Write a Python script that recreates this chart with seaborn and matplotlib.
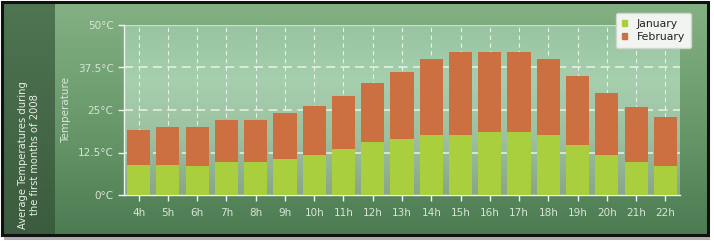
import numpy as np
import pandas as pd
import matplotlib
matplotlib.use("Agg")
import matplotlib.pyplot as plt
import matplotlib.patches as mpatches
from matplotlib.colors import LinearSegmentedColormap
import seaborn as sns

hours = ["4h", "5h", "6h", "7h", "8h", "9h", "10h", "11h", "12h", "13h",
         "14h", "15h", "16h", "17h", "18h", "19h", "20h", "21h", "22h"]
january = [8.7, 8.7, 8.6, 9.7, 9.7, 10.7, 11.7, 13.6, 15.6, 16.6,
           17.7, 17.7, 18.6, 18.6, 17.7, 14.7, 11.7, 9.6, 8.6]
february = [10.4, 11.4, 11.5, 12.4, 12.4, 13.5, 14.5, 15.5, 17.4, 19.5,
            22.3, 24.4, 23.5, 23.5, 22.3, 20.3, 18.3, 16.4, 14.4]
y_ticks = [0, 12.5, 25, 37.5, 50]
y_tick_labels = ["0°C", "12.5°C", "25°C", "37.5°C", "50°C"]

df = pd.DataFrame({"hour": hours, "January": january, "February": february})
df["total"] = df["January"] + df["February"]

sns.set_theme(style="white")
plt.rcParams["font.family"] = ["DejaVu Sans"]

W, H = 714, 245
fig = plt.figure(figsize=(W / 100, H / 100), dpi=100)
fig.patch.set_facecolor("white")

# background (figure level)
bg = fig.add_axes([0, 0, 1, 1], zorder=-10)
bg.set_xlim(0, W)
bg.set_ylim(H, 0)
bg.axis("off")
cmap_bg = LinearSegmentedColormap.from_list("bg", ["#84b184", "#6a9a6c", "#4d7b52"])
grad = np.linspace(0, 1, 256).reshape(-1, 1)
bg.imshow(grad, cmap=cmap_bg, extent=[3, 708, 235, 3], aspect="auto", zorder=0)
cmap_left = LinearSegmentedColormap.from_list("lp", ["#4f7552", "#3b5c3e"])
bg.imshow(grad, cmap=cmap_left, extent=[3, 55, 235, 3], aspect="auto", zorder=1)
bg.add_patch(mpatches.Rectangle((2, 2), 706, 233, fill=False, ec="#111111", lw=2.2, zorder=3))
bg.add_patch(mpatches.Rectangle((4, 237), 706, 3, fc="#b0b0b0", ec="none", zorder=2))
bg.text(29, 155, "Average Temperatures during\nthe first months of 2008", rotation=90,
        ha="center", va="center", color="#e6eee6", fontsize=7.2, linespacing=1.25, zorder=4)

# plot
ax = fig.add_axes([124 / W, 1 - 195 / H, 556 / W, 170 / H])
ax.set_facecolor("none")
cmap_pa = LinearSegmentedColormap.from_list("pa", ["#98c4a0", "#a6cfae", "#9cc0a0", "#88a688"])
ax.imshow(grad, cmap=cmap_pa, extent=[-0.5, 18.5, 0, 50], aspect="auto", zorder=0)

sns.barplot(data=df, x="hour", y="total", color="#cc7042", saturation=1, width=0.79,
            ax=ax, zorder=3, linewidth=0)
sns.barplot(data=df, x="hour", y="January", color="#a9cf3e", saturation=1, width=0.79,
            ax=ax, zorder=4, linewidth=0)

ax.set_xlim(-0.5, 18.5)
ax.set_ylim(0, 50)
ax.set_yticks(y_ticks)
ax.set_yticklabels(y_tick_labels)
for x in range(len(hours)):
    ax.axvline(x, color="white", lw=0.8, ls=(0, (4, 3)), alpha=0.75, zorder=1)
for y in y_ticks[1:4]:
    ax.axhline(y, color="#e8f2e8", lw=1.3, ls=(0, (5, 3)), alpha=0.85, zorder=2)
ax.axhline(50, color="#e8f2e8", lw=1.0, alpha=0.6, zorder=2)

for s in ["top", "right"]:
    ax.spines[s].set_visible(False)
for s in ["left", "bottom"]:
    ax.spines[s].set_color("#eef5ee")
    ax.spines[s].set_linewidth(1.0)
ax.tick_params(axis="both", colors="#eef5ee", labelcolor="#d6e6d6", labelsize=7.5,
               length=4, width=1, direction="out", left=True, bottom=True)
ax.tick_params(axis="x", pad=5)
ax.set_xlabel("")
ax.set_ylabel("Temperature", color="#d6e6d6", fontsize=7.5, labelpad=14)
ax.yaxis.set_label_coords(-0.095, 0.5)

# legend
handles = [mpatches.Patch(color="#a9cf3e", label="January"),
           mpatches.Patch(color="#cc7042", label="February")]
leg = ax.legend(handles=handles, loc="upper right", bbox_to_anchor=(691 / W, 1 - 13 / H),
                bbox_transform=fig.transFigure, frameon=True, fontsize=7.8,
                handlelength=0.5, handleheight=0.5, handletextpad=0.9,
                borderpad=0.55, labelspacing=0.3, fancybox=True, borderaxespad=0)
leg.get_frame().set_facecolor("#f2f4f2")
leg.get_frame().set_edgecolor("#cfd8cf")
leg.get_frame().set_alpha(1)
for t in leg.get_texts():
    t.set_color("#222222")
leg.set_zorder(10)

fig.savefig("out.png", dpi=100)
